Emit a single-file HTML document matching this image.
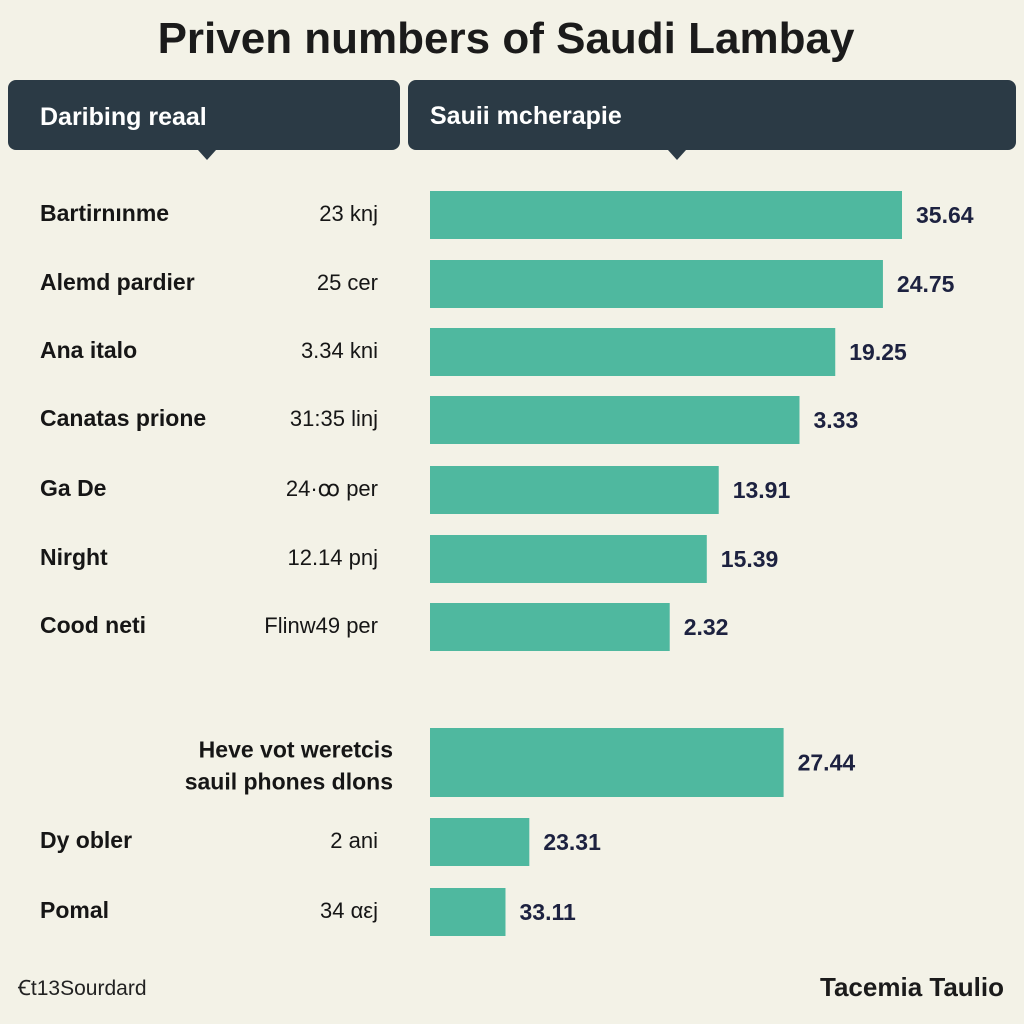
<!DOCTYPE html>
<html><head><meta charset="utf-8"><style>
body{margin:0;width:1024px;height:1024px;background:#f3f2e7;font-family:"Liberation Sans",Arial,sans-serif;overflow:hidden;position:relative}
.t{position:absolute;white-space:nowrap}
</style></head><body>
<div class="t" style="left:0;width:1012px;text-align:center;top:14px;font-size:44px;font-weight:bold;color:#1b1b1b">Priven numbers of Saudi Lambay</div>
<svg id="c" width="1024" height="1024" style="position:absolute;left:0;top:0">
<g>
<rect x="8" y="80" width="392" height="70" rx="8" fill="#2b3a45"/>
<polygon points="198,150 216,150 207,160" fill="#2b3a45"/>
<text x="40" y="125" font-size="25" font-weight="bold" fill="#fff">Daribing reaal</text></g>
<g>
<rect x="408" y="80" width="608" height="70" rx="8" fill="#2b3a45"/>
<polygon points="668,150 686,150 677,160" fill="#2b3a45"/>
<text x="430" y="124" font-size="25" font-weight="bold" fill="#fff">Sauii mcherapie</text></g>
</svg>
<div class="t" style="left:18px;top:974px;font-size:21px;color:#222">Ꞓt13Sourdard</div>
<div class="t" style="right:20px;top:972px;font-size:26px;font-weight:bold;color:#1b1b1b">Tacemia Taulio</div>
<script>
const categories=["Bartirnınme","Alemd pardier","Ana italo","Canatas prione","Ga De","Nirght","Cood neti","Heve vot weretcis|sauil phones dlons","Dy obler","Pomal"];
const subLabels=["23 knj","25 cer","3.34 kni","31:35 linj","24·ꝏ per","12.14 pnj","Flinw49 per","","2 ani","34 αεj"];
const values=[35.64,34.2,30.6,27.9,21.8,20.9,18.1,26.7,7.5,5.7];
const valueLabels=["35.64","24.75","19.25","3.33","13.91","15.39","2.32","27.44","23.31","33.11"];
const rowTop=[191,260,328,396,466,535,603,728,818,888];
const rowH=[48,48,48,48,48,48,48,69,48,48];
const svg=document.getElementById('c');const NS='http://www.w3.org/2000/svg';
const x0=430,scale=472/35.64;const xs=v=>v*scale;
function txt(x,y,s,o){const t=document.createElementNS(NS,'text');t.setAttribute('x',x);t.setAttribute('y',y);t.setAttribute('font-size',o.size||23);if(o.bold)t.setAttribute('font-weight','bold');if(o.anchor)t.setAttribute('text-anchor',o.anchor);t.setAttribute('fill',o.fill||'#161616');t.textContent=s;svg.appendChild(t);return t;}
values.forEach((v,i)=>{
const r=document.createElementNS(NS,'rect');
r.setAttribute('x',x0);r.setAttribute('y',rowTop[i]);r.setAttribute('width',xs(v));r.setAttribute('height',rowH[i]);r.setAttribute('fill','#4fb89f');


svg.appendChild(r);
const cy=rowTop[i]+rowH[i]/2+8;
const vl=txt(x0+xs(v)+14,cy,valueLabels[i],{bold:true,fill:'#1d2240',size:23});


const parts=categories[i].split('|');
if(parts.length>1){
const a=txt(393,cy-13,parts[0],{bold:true,anchor:'end'});


const b=txt(393,cy+19,parts[1],{bold:true,anchor:'end'});


}else{
const a=txt(40,cy-2,parts[0],{bold:true});


}
if(subLabels[i]){const s=txt(378,cy-2,subLabels[i],{anchor:'end',size:22});

}
});
</script>
</body></html>
